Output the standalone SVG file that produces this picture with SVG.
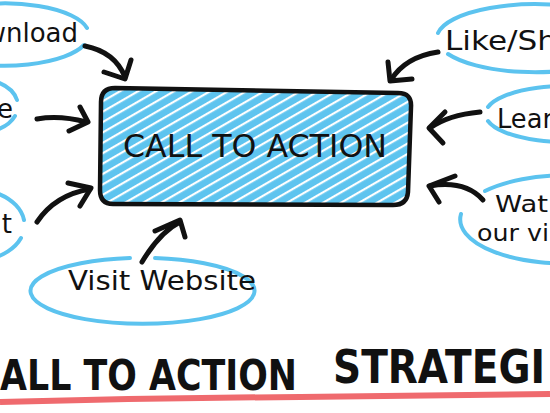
<svg xmlns="http://www.w3.org/2000/svg" width="550" height="413" viewBox="0 0 550 413">
<style>
.bub{fill:none;stroke:#5cc3ef;stroke-width:4;stroke-linecap:round}
.arr{fill:none;stroke:#111;stroke-width:5;stroke-linecap:round;stroke-linejoin:round}
.lbl{font-family:"DejaVu Sans","Open Sans",sans-serif;font-size:26px;fill:#111}
.ttl{font-family:"DejaVu Sans","Liberation Sans",sans-serif;font-weight:bold;fill:#111}
</style>
<defs>
<pattern id="hatch" width="9" height="9" patternUnits="userSpaceOnUse" patternTransform="rotate(-30)">
<rect width="9" height="9" fill="#5ec4ef"/>
<rect x="0" y="3" width="9" height="2.2" fill="#ffffff"/>
</pattern>
</defs>
<rect width="550" height="413" fill="#ffffff"/>

<g id="main">
<path d="M115 88 L398 93 Q412 93 411 107 L408 192 Q407 205 393 205 L113 204 Q100 204 100 190 L101 102 Q101 88 115 88 Z" fill="url(#hatch)" stroke="#111" stroke-width="4.5" stroke-linejoin="round"/>
<text class="lbl" x="123" y="157" textLength="264" lengthAdjust="spacingAndGlyphs" style="font-size:32px">CALL TO ACTION</text>
</g>

<g id="download">
<path class="bub" d="M84 45 A83 31 0 1 1 87 28"/>
<text class="lbl" x="78" y="42" text-anchor="end">wnload</text>
</g>

<g id="left-e">
<path class="bub" d="M15 116 A40 27 0 1 1 17 100"/>
<text class="lbl" x="13" y="118" text-anchor="end">e</text>
</g>

<g id="left-t">
<path class="bub" d="M21 238 A52 36 0 1 1 24 220"/>
<text class="lbl" x="12" y="233" text-anchor="end">t</text>
</g>

<g id="visit">
<path class="bub" d="M155 258 A112 33 0 1 1 130 258"/>
<text class="lbl" x="68" y="290" textLength="188" lengthAdjust="spacingAndGlyphs">Visit Website</text>
</g>

<g id="like">
<path class="bub" d="M438 33 A98 34 0 1 1 448 54"/>
<text class="lbl" x="445" y="50" textLength="112" lengthAdjust="spacingAndGlyphs">Like/Sh</text>
</g>

<g id="learn">
<path class="bub" d="M488 107 A80 28 0 1 1 488 121"/>
<text class="lbl" x="497" y="128" textLength="56" lengthAdjust="spacingAndGlyphs">Lear</text>
</g>

<g id="watch">
<path class="bub" d="M485 191 A105 44 0 1 1 461 214"/>
<text class="lbl" x="495" y="212" textLength="53" lengthAdjust="spacingAndGlyphs" style="font-size:23px">Wat</text>
<text class="lbl" x="477" y="241" textLength="72" lengthAdjust="spacingAndGlyphs" style="font-size:23px">our vi</text>
</g>

<g id="connectors">
<path class="arr" d="M85 46 Q115 52 125 77"/>
<path class="arr" d="M104 72 L125 79 L131 60"/>
<path class="arr" d="M37 119 Q60 115 86 122"/>
<path class="arr" d="M80 107 L88 122 L69 131"/>
<path class="arr" d="M37 222 Q55 195 90 189"/>
<path class="arr" d="M68 183 L91 188 L80 206"/>
<path class="arr" d="M142 262 Q160 232 180 222"/>
<path class="arr" d="M155 231 L180 220 L185 237"/>
<path class="arr" d="M438 52 Q405 57 391 80"/>
<path class="arr" d="M388 62 L390 81 L412 79"/>
<path class="arr" d="M480 112 Q448 115 430 128"/>
<path class="arr" d="M445 112 L429 128 L443 143"/>
<path class="arr" d="M483 200 Q465 180 430 186"/>
<path class="arr" d="M455 176 L429 186 L439 202"/>
</g>

<g id="title">
<text class="ttl" x="0" y="390" style="font-size:42px" textLength="297" lengthAdjust="spacingAndGlyphs">ALL TO ACTION</text>
<text class="ttl" x="333" y="383" style="font-size:46px" textLength="212" lengthAdjust="spacingAndGlyphs">STRATEGI</text>
<path d="M0 402 Q150 398 300 397 Q450 395 550 394" fill="none" stroke="#ef6a6e" stroke-width="6"/>
</g>
</svg>
